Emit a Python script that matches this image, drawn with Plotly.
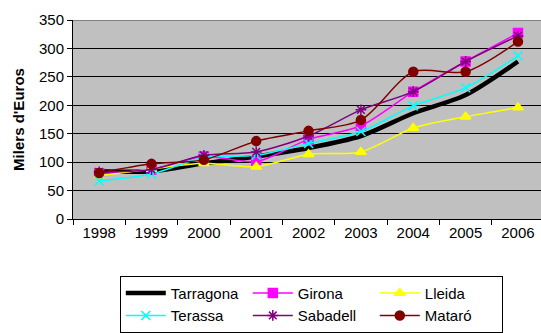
import plotly.graph_objects as go

years = ["1998", "1999", "2000", "2001", "2002", "2003", "2004", "2005", "2006"]
tarragona = [84, 84, 98, 110, 125, 146, 186, 218, 277]
girona = [80, 87, 110, 101, 140, 164, 224, 277, 327]
lleida = [76, 88, 98, 92, 114, 118, 160, 180, 196]
terassa = [67, 79, 108, 112, 133, 154, 199, 231, 287]
sabadell = [83, 87, 112, 118, 146, 192, 224, 277, 322]
mataro = [81, 97, 104, 137, 155, 174, 259, 259, 312]
y_ticks = [0, 50, 100, 150, 200, 250, 300, 350]

fig = go.Figure()
series = [
    ("Tarragona", tarragona, "#000000", 4.5, None),
    ("Girona", girona, "#FF00FF", 1.5, "square"),
    ("Lleida", lleida, "#FFFF00", 1.5, "triangle-up"),
    ("Terassa", terassa, "#00FFFF", 1.5, "x-thin-open"),
    ("Sabadell", sabadell, "#800080", 1.5, "asterisk-open"),
    ("Mataró", mataro, "#800000", 1.5, "circle"),
]
for name, vals, color, w, sym in series:
    if sym is None:
        fig.add_trace(go.Scatter(x=years, y=vals, name=name, mode="lines",
                                 line=dict(color=color, width=w, shape="spline", smoothing=0.8)))
    else:
        fig.add_trace(go.Scatter(x=years, y=vals, name=name, mode="lines+markers",
                                 line=dict(color=color, width=w, shape="spline", smoothing=0.8),
                                 marker=dict(symbol=sym, size=9, color=color,
                                             line=dict(color=color, width=1.5))))

fig.add_shape(type="line", xref="paper", x0=0, x1=1, yref="y", y0=350, y1=350,
              line=dict(color="#808080", width=2))

fig.update_layout(
    width=541, height=333,
    margin=dict(l=73, r=0, t=20, b=114, autoexpand=False),
    paper_bgcolor="white", plot_bgcolor="#C0C0C0",
    font=dict(family="Liberation Sans, Arial, sans-serif", size=15, color="black"),
    showlegend=True,
    legend=dict(orientation="h", x=0.1, y=-0.285, xanchor="left", yanchor="top",
                bordercolor="black", borderwidth=1, bgcolor="white",
                entrywidth=72, entrywidthmode="pixels",
                font=dict(size=15), tracegroupgap=0, itemwidth=40),
)
fig.update_xaxes(type="category", range=[-0.5, 8.44], showgrid=False,
                 ticks="outside", tickson="boundaries", ticklen=5, tickcolor="black",
                 showline=True, linecolor="black", linewidth=1)
fig.update_yaxes(range=[0, 350], tickvals=y_ticks, showgrid=True, gridcolor="black", gridwidth=1,
                 ticks="outside", ticklen=5, tickcolor="black", zeroline=False,
                 showline=True, linecolor="black", linewidth=1,
                 title=dict(text="<b>Milers d'Euros</b>", font=dict(size=15), standoff=10))

fig.write_html("out.html", config={"displayModeBar": False},
               post_script="document.body.style.margin='0';document.body.style.overflow='hidden';")
